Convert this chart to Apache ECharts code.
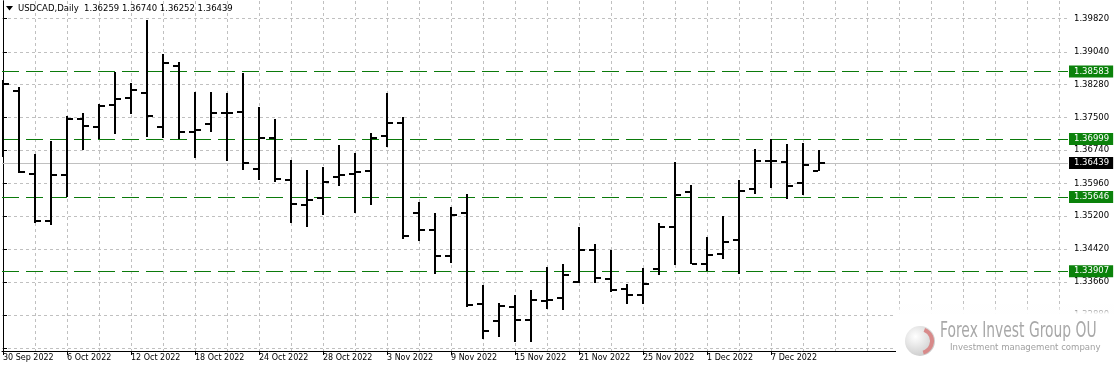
<!DOCTYPE html>
<html><head><meta charset="utf-8">
<script src="https://cdn.jsdelivr.net/npm/echarts@6/dist/echarts.min.js"></script>
<style>html,body{margin:0;padding:0;background:#fff}#c{width:1114px;height:372px}</style>
</head><body><div id="c"></div>
<script>
const symbolName = 'USDCAD,Daily';
const dates = ['30 Sep 2022','3 Oct 2022','4 Oct 2022','5 Oct 2022','6 Oct 2022','7 Oct 2022','10 Oct 2022','11 Oct 2022','12 Oct 2022','13 Oct 2022','14 Oct 2022','17 Oct 2022','18 Oct 2022','19 Oct 2022','20 Oct 2022','21 Oct 2022','24 Oct 2022','25 Oct 2022','26 Oct 2022','27 Oct 2022','28 Oct 2022','31 Oct 2022','1 Nov 2022','2 Nov 2022','3 Nov 2022','4 Nov 2022','7 Nov 2022','8 Nov 2022','9 Nov 2022','10 Nov 2022','11 Nov 2022','14 Nov 2022','15 Nov 2022','16 Nov 2022','17 Nov 2022','18 Nov 2022','21 Nov 2022','22 Nov 2022','23 Nov 2022','24 Nov 2022','25 Nov 2022','28 Nov 2022','29 Nov 2022','30 Nov 2022','1 Dec 2022','2 Dec 2022','5 Dec 2022','6 Dec 2022','7 Dec 2022','8 Dec 2022','9 Dec 2022','12 Dec 2022'];
const open  = [1.3800,1.3812,1.3619,1.3509,1.3617,1.3748,1.3727,1.3780,1.3797,1.3808,1.3728,1.3871,1.3716,1.3735,1.3761,1.3764,1.3630,1.3703,1.3604,1.3546,1.3561,1.3610,1.3619,1.3626,1.3706,1.3738,1.3526,1.3486,1.3427,1.3526,1.3314,1.3275,1.3308,1.3277,1.3322,1.3327,1.3365,1.3441,1.3372,1.3348,1.3334,1.3397,1.3494,1.3575,1.3408,1.3431,1.3464,1.3583,1.3649,1.3647,1.3596,1.36259];
const high  = [1.3837,1.3822,1.3665,1.3695,1.3755,1.3761,1.3781,1.3858,1.3832,1.3978,1.3900,1.3880,1.3810,1.3810,1.3808,1.3854,1.3775,1.3747,1.3650,1.3627,1.3635,1.3686,1.3667,1.3714,1.3808,1.3752,1.3553,1.3527,1.3541,1.3572,1.3359,1.3316,1.3335,1.3347,1.3401,1.3408,1.3494,1.3454,1.3441,1.3361,1.3399,1.3503,1.3646,1.3593,1.3471,1.3519,1.3603,1.3676,1.3699,1.3688,1.3690,1.36740];
const low   = [1.3657,1.3620,1.3503,1.3500,1.3564,1.3674,1.3701,1.3712,1.3759,1.3704,1.3702,1.3701,1.3656,1.3716,1.3649,1.3628,1.3604,1.3600,1.3504,1.3493,1.3523,1.3589,1.3528,1.3546,1.3682,1.3467,1.3462,1.3385,1.3409,1.3307,1.3233,1.3236,1.3224,1.3226,1.3303,1.3299,1.3364,1.3362,1.3343,1.3315,1.3315,1.3381,1.3406,1.3408,1.3391,1.3419,1.3384,1.3571,1.3586,1.3559,1.3568,1.36252];
const close = [1.3829,1.3623,1.3509,1.3615,1.3748,1.3731,1.3777,1.3794,1.3815,1.3754,1.3879,1.3716,1.3722,1.3761,1.3761,1.3644,1.3703,1.3607,1.3547,1.3557,1.3600,1.3617,1.3624,1.3703,1.3738,1.3473,1.3487,1.3427,1.3523,1.3312,1.3250,1.3310,1.3277,1.3324,1.3324,1.3381,1.3441,1.3374,1.3347,1.3336,1.3360,1.3493,1.3570,1.3408,1.3429,1.3460,1.3579,1.3649,1.3649,1.3591,1.3639,1.36439];
const levelLines = [1.38583, 1.36999, 1.35646, 1.33907];
const currentPrice = 1.36439;
const priceLabels = [1.32880,1.33660,1.34420,1.35200,1.35960,1.36740,1.37500,1.38280,1.39040,1.39820];
const extraGridPrices = [1.32100];

const FONT = 'DejaVu Sans';
const chart = echarts.init(document.getElementById('c'), null, {renderer: 'canvas'});
const n = dates.length;
const xMin = -0.0625, xMax = 66.5625;
const yMin = 1.3204, yMax = 1.4023;
const labelIdx = []; for (let i = 0; i < n; i += 4) labelIdx.push(i);
const gridIdx = []; for (let i = 2; i <= 66; i += 2) gridIdx.push(i);
const ohlc = dates.map((d, i) => [i, open[i], high[i], low[i], close[i]]);
const last = n - 1;
const headerText = symbolName + '  ' + [open[last], high[last], low[last], close[last]].map(v => v.toFixed(5)).join(' ');
const gridLine = {color: '#c0c0c0', type: [3, 3], width: 1};
const boxLabel = (txt, bg) => ({show: true, position: 'end', distance: 1, formatter: () => txt, color: '#fff', backgroundColor: bg, padding: [2, 4, 1, 5], fontFamily: FONT, fontSize: 8.5});

const option = {
  animation: false,
  grid: {left: 2, right: 46, top: 1, bottom: 21},
  xAxis: [
    {type: 'value', min: xMin, max: xMax, position: 'bottom',
     axisLine: {show: true, onZero: false, lineStyle: {color: '#000', width: 1}},
     axisTick: {show: true, customValues: labelIdx, length: 4, lineStyle: {color: '#000'}},
     axisLabel: {customValues: labelIdx, formatter: v => dates[Math.round(v)] || '', align: 'left', margin: 3, color: '#000', fontFamily: FONT, fontSize: 8},
     splitLine: {show: false}},
    {type: 'value', min: xMin, max: xMax, position: 'bottom',
     axisLine: {show: false}, axisTick: {show: false, customValues: gridIdx}, axisLabel: {show: false},
     splitLine: {show: true, lineStyle: gridLine}}
  ],
  yAxis: [
    {type: 'value', position: 'right', min: yMin, max: yMax,
     axisLine: {show: true, lineStyle: {color: '#000'}},
     axisTick: {show: true, customValues: priceLabels.concat(extraGridPrices), length: 4, lineStyle: {color: '#000'}},
     axisLabel: {customValues: priceLabels, formatter: v => v.toFixed(5), margin: 6, color: '#000', fontFamily: FONT, fontSize: 8.5},
     splitLine: {show: true, lineStyle: gridLine}},
    {type: 'value', position: 'left', min: yMin, max: yMax,
     axisLine: {show: true, lineStyle: {color: '#000'}}, axisTick: {show: false}, axisLabel: {show: false}, splitLine: {show: false}}
  ],
  series: [
    {type: 'line', data: [], xAxisIndex: 0, yAxisIndex: 0, z: 2, silent: true,
     markLine: {symbol: 'none', silent: true, animation: false, precision: 5,
       data: levelLines.map(v => ({yAxis: v, lineStyle: {color: '#0b7a0b', type: [17, 7], width: 1}, label: boxLabel(v.toFixed(5), '#0b820b')}))
        .concat([{yAxis: currentPrice, lineStyle: {color: '#c0c0c0', type: 'solid', width: 1}, label: boxLabel(currentPrice.toFixed(5), '#000')}])
     }},
    {type: 'custom', xAxisIndex: 0, yAxisIndex: 0, z: 5, clip: true, data: ohlc,
     encode: {x: 0, y: [1, 2, 3, 4]},
     renderItem: function (params, api) {
       const i = api.value(0);
       const pO = api.coord([i, api.value(1)]);
       const pH = api.coord([i, api.value(2)]);
       const pL = api.coord([i, api.value(3)]);
       const pC = api.coord([i, api.value(4)]);
       const x = Math.round(pH[0]);
       const st = {fill: '#000'};
       return {type: 'group', children: [
         {type: 'rect', shape: {x: x - 1, y: Math.round(pH[1]), width: 2, height: Math.max(1, Math.round(pL[1]) - Math.round(pH[1]))}, style: st},
         {type: 'rect', shape: {x: x - 6, y: Math.round(pO[1]) - 1, width: 5, height: 2}, style: st},
         {type: 'rect', shape: {x: x + 1, y: Math.round(pC[1]) - 1, width: 5, height: 2}, style: st}
       ]};
     }}
  ],
  graphic: [
    {type: 'polygon', shape: {points: [[6, 6], [13, 6], [9.5, 10.5]]}, style: {fill: '#000'}, z: 10},
    {type: 'text', x: 18, y: 8.5, style: {text: headerText, fill: '#000', font: '8.5px "DejaVu Sans"', verticalAlign: 'middle'}, z: 10},
    {type: 'rect', shape: {x: 896, y: 304, width: 218, height: 68},
     style: {fill: new echarts.graphic.LinearGradient(0, 0, 0, 1, [{offset: 0, color: 'rgba(255,255,255,0)'}, {offset: 0.15, color: 'rgba(255,255,255,1)'}, {offset: 1, color: 'rgba(255,255,255,1)'}])}, z: 20},
    {type: 'circle', shape: {cx: 920, cy: 341, r: 15},
     style: {fill: new echarts.graphic.RadialGradient(0.35, 0.35, 0.8, [{offset: 0, color: '#ffffff'}, {offset: 1, color: '#c4c4c4'}])}, z: 21},
    {type: 'arc', shape: {cx: 920, cy: 341, r: 12, startAngle: -1.2, endAngle: 1.3}, style: {stroke: '#d88a8a', lineWidth: 4, fill: null}, z: 22},
    {type: 'text', x: 940, y: 332, scaleX: 0.66, style: {text: 'Forex Invest Group OU', fill: '#a8a8a8', font: '21px "DejaVu Sans"', verticalAlign: 'middle'}, z: 22},
    {type: 'text', x: 950, y: 348, scaleX: 0.9, style: {text: 'Investment management company', fill: '#a0a0a0', font: '9.5px "DejaVu Sans"', verticalAlign: 'middle'}, z: 22}
  ]
};
chart.setOption(option);
</script></body></html>
